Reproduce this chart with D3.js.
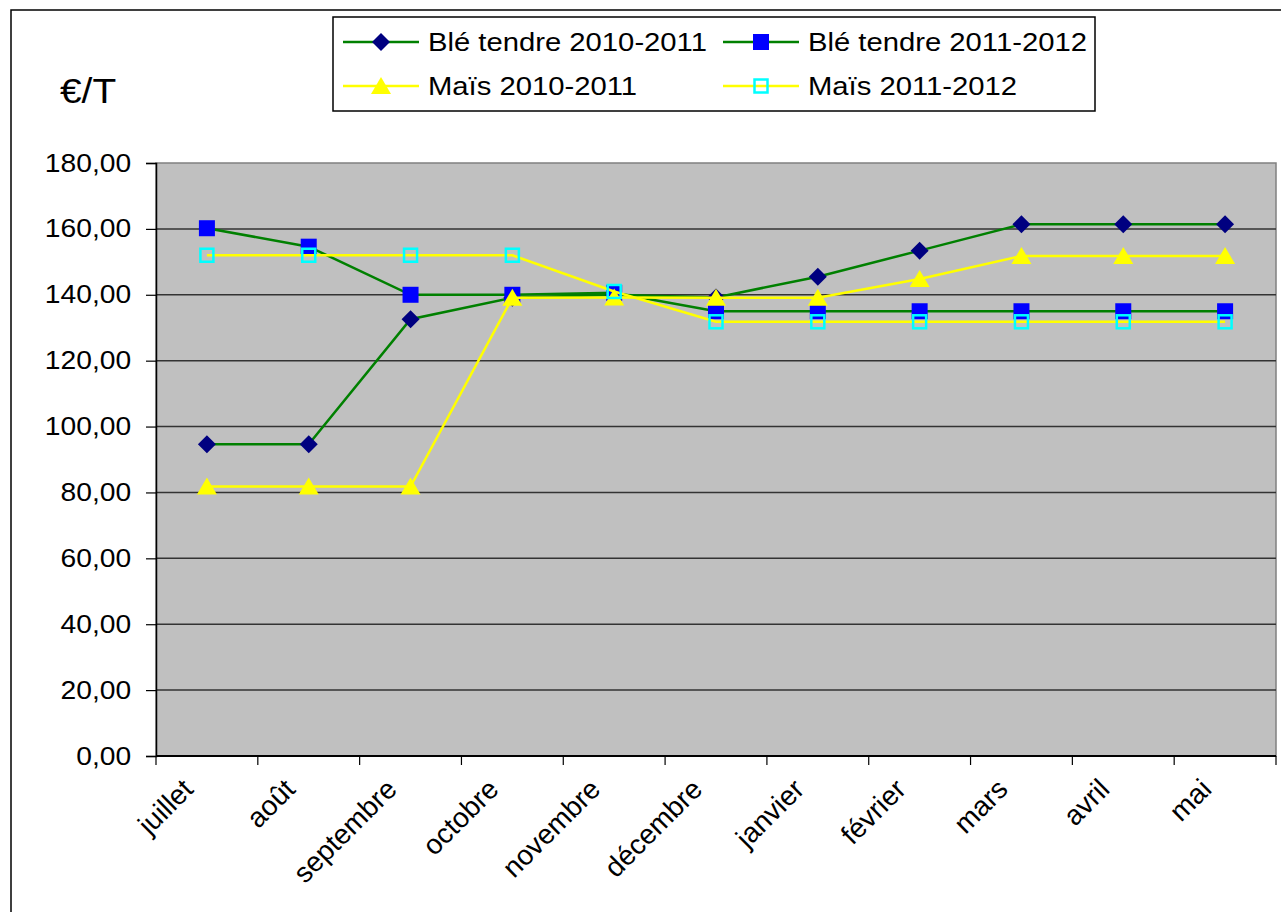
<html>
<head>
<meta charset="utf8">
</head>
<body style="margin:0;background:#fff">
<div id="canvas"></div>
<script src="https://cdn.jsdelivr.net/npm/d3@7"></script>
<script>

const months = ['juillet','août','septembre','octobre','novembre','décembre','janvier','février','mars','avril','mai'];
const yTicks = [0,20,40,60,80,100,120,140,160,180];
const seriesNames = ['Blé tendre 2010-2011','Blé tendre 2011-2012','Maïs 2010-2011','Maïs 2011-2012'];
const ble1011 = [94.6,94.6,132.6,139.1,140.0,139.2,145.5,153.4,161.4,161.4,161.4];
const ble1112 = [160.2,154.6,140.0,140.0,140.6,135.0,135.0,135.0,135.0,135.0,135.0];
const mais1011 = [81.8,81.8,81.8,139.1,139.2,139.1,139.1,144.8,151.8,151.8,151.8];
const mais1112 = [152.0,152.0,152.0,152.0,141.0,131.8,131.8,131.8,131.8,131.8,131.8];

const W = 1281, H = 912;
const svg = d3.select("#canvas").append("svg")
    .attr("width", W)
    .attr("height", H)
    .style("display","block")
    .style("font-family","'Liberation Sans', Arial, sans-serif");

// cadre du graphique
svg.append("rect")
    .attr("x", 11).attr("y", 10)
    .attr("width", W + 20).attr("height", H + 20)
    .attr("fill", "#fff").attr("stroke", "#000").attr("stroke-width", 1.5);

const x = d3.scaleBand().domain(months).range([156, 1276]);
const y = d3.scaleLinear().domain([0, 180]).range([756, 163]);

// zone de tracé
svg.append("rect")
    .attr("x", x.range()[0]).attr("y", y(180))
    .attr("width", x.range()[1] - x.range()[0]).attr("height", y(0) - y(180))
    .attr("fill", "#c0c0c0").attr("stroke", "#808080").attr("stroke-width", 1.5);

// grille
svg.append("g").selectAll("line").data(yTicks.slice(1, -1)).join("line")
    .attr("x1", x.range()[0]).attr("x2", x.range()[1])
    .attr("y1", d => y(d)).attr("y2", d => y(d))
    .attr("stroke", "#333").attr("stroke-width", 1.5);

// axe Y
const yAxis = svg.append("g")
    .attr("transform", `translate(${x.range()[0]},0)`)
    .call(d3.axisLeft(y).tickValues(yTicks).tickSize(10).tickPadding(12)
        .tickFormat(d => d3.format(".2f")(d).replace(".", ",")));
yAxis.select(".domain").attr("stroke", "#000").attr("stroke-width", 1.5);
yAxis.selectAll(".tick line").attr("stroke", "#000").attr("stroke-width", 1.2);
yAxis.selectAll("text")
    .attr("font-size", 25).attr("fill", "#000")
    .attr("font-family", "'Liberation Sans', Arial, sans-serif")
    .attr("transform", "scale(1.13,1)");

// axe X
const xAxis = svg.append("g").attr("transform", `translate(0,${y(0)})`);
xAxis.append("line")
    .attr("x1", x.range()[0]).attr("x2", x.range()[1])
    .attr("stroke", "#000").attr("stroke-width", 2);
xAxis.selectAll(".tk").data(months.concat(["_end"])).join("line")
    .attr("class", "tk")
    .attr("x1", (d, i) => i < months.length ? x(d) : x.range()[1])
    .attr("x2", (d, i) => i < months.length ? x(d) : x.range()[1])
    .attr("y1", 0).attr("y2", 9)
    .attr("stroke", "#000").attr("stroke-width", 1.2);
xAxis.selectAll("text").data(months).join("text")
    .attr("transform", d => `translate(${x(d) + x.bandwidth() / 2 - 19},28) rotate(-45)`)
    .attr("text-anchor", "end")
    .attr("dy", "0.35em")
    .attr("font-size", 28)
    .text(d => d);

// unité
svg.append("text")
    .attr("transform", "translate(60,103) scale(1.08,1)")
    .attr("font-size", 36)
    .text("€/T");

// séries
const series = [
    { name: seriesNames[0], values: ble1011, line: "#008000", marker: "diamond", fill: "#000080" },
    { name: seriesNames[1], values: ble1112, line: "#008000", marker: "square", fill: "#0000ff" },
    { name: seriesNames[2], values: mais1011, line: "#ffff00", marker: "triangle", fill: "#ffff00" },
    { name: seriesNames[3], values: mais1112, line: "#ffff00", marker: "hollow", fill: "none" }
];

function drawMarker(g, type, fill) {
    if (type === "diamond") {
        g.append("path").attr("d", "M0,-9L9,0L0,9L-9,0Z").attr("fill", fill);
    } else if (type === "square") {
        g.append("rect").attr("x", -8).attr("y", -8).attr("width", 16).attr("height", 16).attr("fill", fill);
    } else if (type === "triangle") {
        g.append("path").attr("d", "M0,-9L10,8L-10,8Z").attr("fill", fill);
    } else {
        g.append("rect").attr("x", -6.5).attr("y", -6.5).attr("width", 13).attr("height", 13)
            .attr("fill", "none").attr("stroke", "#00ffff").attr("stroke-width", 2.5);
    }
}

const line = d3.line()
    .x((d, i) => x(months[i]) + x.bandwidth() / 2)
    .y(d => y(d));

series.forEach(s => {
    const g = svg.append("g");
    g.append("path")
        .datum(s.values)
        .attr("fill", "none")
        .attr("stroke", s.line)
        .attr("stroke-width", 2.5)
        .attr("d", line);
    g.selectAll("g").data(s.values).join("g")
        .attr("transform", (d, i) => `translate(${x(months[i]) + x.bandwidth() / 2},${y(d)})`)
        .each(function () { drawMarker(d3.select(this), s.marker, s.fill); });
});

// légende
const legend = svg.append("g");
legend.append("rect")
    .attr("x", 333).attr("y", 17).attr("width", 762).attr("height", 94)
    .attr("fill", "#fff").attr("stroke", "#000").attr("stroke-width", 1.5);
const legPos = [[343, 42], [723, 42], [343, 86], [723, 86]];
series.forEach((s, i) => {
    const [lx, ly] = legPos[i];
    const g = legend.append("g").attr("transform", `translate(${lx},${ly})`);
    g.append("line").attr("x1", 0).attr("x2", 76).attr("stroke", s.line).attr("stroke-width", 2.5);
    const m = g.append("g").attr("transform", "translate(38,0)");
    drawMarker(m, s.marker, s.fill);
    g.append("text")
        .attr("transform", "translate(85,9) scale(1.17,1)")
        .attr("font-size", 25)
        .text(s.name);
});

</script>

</body>
</html>
